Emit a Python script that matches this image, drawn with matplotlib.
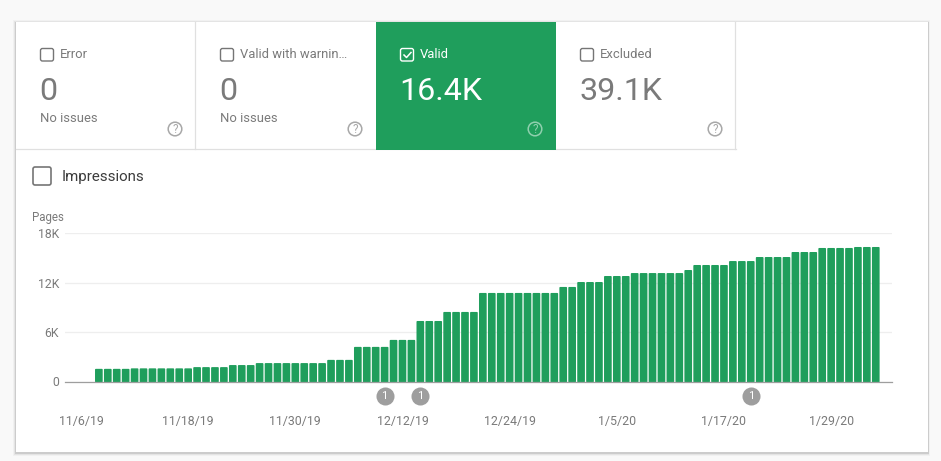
import numpy as np
import pandas as pd
import matplotlib
matplotlib.use("Agg")
import matplotlib.pyplot as plt
import matplotlib.dates as mdates
from matplotlib.patches import Rectangle, FancyBboxPatch, Circle
from matplotlib.transforms import blended_transform_factory

plt.rcParams['font.family'] = ['Roboto', 'DejaVu Sans']

# Data
first_day = '2019-11-08'
pages = [
    1540, 1540, 1540, 1540,
    1600, 1600, 1600, 1600, 1600, 1600, 1600,
    1750, 1750, 1750, 1750,
    2000, 2000, 2000,
    2240, 2240, 2240, 2240, 2240, 2240, 2240, 2240,
    2630, 2630, 2630,
    4210, 4210, 4210, 4210,
    5060, 5060, 5060,
    7360, 7360, 7360,
    8460, 8460, 8460, 8460,
    10770, 10770, 10770, 10770, 10770, 10770, 10770, 10770, 10770,
    11500, 11500,
    12100, 12100, 12100,
    12830, 12830, 12830,
    13190, 13190, 13190, 13190, 13190, 13190,
    13560,
    14170, 14170, 14170, 14170,
    14650, 14650, 14650,
    15140, 15140, 15140, 15140,
    15750, 15750, 15750,
    16240, 16240, 16240, 16240,
    16360, 16360, 16360,
]
x_tick_labels = ['11/6/19', '11/18/19', '11/30/19', '12/12/19', '12/24/19', '1/5/20', '1/17/20', '1/29/20']
y_ticks = [0, 6000, 12000, 18000]
y_tick_labels = ['0', '6K', '12K', '18K']
badge_days = ['2019-12-10', '2019-12-14', '2020-01-20']
badge_counts = ['1', '1', '1']

tile_names = ['Error', 'Valid with warnin\u2026', 'Valid', 'Excluded']
tile_values = ['0', '0', '16.4K', '39.1K']
tile_notes = ['No issues', 'No issues', '', '']

GREEN = '#1f9e5c'
GREY_TEXT = '#7a7a7a'
W, H = 941, 461

fig = plt.figure(figsize=(W / 100, H / 100), dpi=100, facecolor='#f9f9f9')

# Page layer, works in pixels
page = fig.add_axes([0, 0, 1, 1], zorder=0)
page.set_xlim(0, W)
page.set_ylim(H, 0)
page.axis('off')

# Card shadow and card
for grow, alpha in [(2.5, 0.03), (1.5, 0.05), (0.7, 0.10)]:
    page.add_patch(Rectangle((16 - grow, 22 - grow + 1), 912 + 2 * grow, 430 + 2 * grow,
                             fc='black', ec='none', alpha=alpha))
page.add_patch(Rectangle((16, 22), 912, 430, fc='white', ec='none'))

# Tiles
tile_left = [16, 196, 376, 556]
tile_w = 180
tile_h = 128
for i, name in enumerate(tile_names):
    x0 = tile_left[i]
    selected = name == 'Valid'
    if selected:
        page.add_patch(Rectangle((x0, 22), tile_w, tile_h, fc=GREEN, ec='none', zorder=2))
    label_col = 'white' if selected else GREY_TEXT
    box_col = 'white' if selected else '#757575'

    page.add_patch(FancyBboxPatch((x0 + 24.5, 48.5), 13, 12.5, boxstyle='round,pad=0,rounding_size=2',
                                  fc='none', ec=box_col, lw=1.0, zorder=3))
    if selected:
        page.plot([x0 + 28, x0 + 30.5, x0 + 35], [55, 57.5, 52.5], color='white', lw=1.1, zorder=3)
    page.text(x0 + 44, 54, name, color=label_col, fontsize=9.4, va='center', ha='left', zorder=3)
    page.text(x0 + 23.4, 100, tile_values[i], color=label_col, fontsize=23.2, va='baseline', ha='left', zorder=3)
    page.text(x0 + 24, 122, tile_notes[i], color=label_col, fontsize=9.4, va='baseline', ha='left', zorder=3)

    help_col = '#8fd0ae' if selected else '#a8a8a8'
    page.add_patch(Circle((x0 + 159, 129), 6.8, fc='none', ec=help_col, lw=1.1, zorder=3))
    page.text(x0 + 159, 129.3, '?', color=help_col, fontsize=8.5, ha='center', va='center', zorder=3)

# Tile borders
border = '#e0e0e0'
page.plot([16, 736], [149.5, 149.5], color=border, lw=0.9, zorder=1)
page.plot([195.5, 195.5], [22, 149.5], color=border, lw=0.9, zorder=1)
page.plot([735.5, 735.5], [22, 149.5], color=border, lw=0.9, zorder=1)

# Impressions toggle
page.add_patch(FancyBboxPatch((33, 167), 18, 18, boxstyle='round,pad=0,rounding_size=2',
                              fc='none', ec='#757575', lw=1.2))
page.text(62, 181, 'Impressions', color='#3c3c3c', fontsize=10.9, va='baseline', ha='left')
page.text(32, 221, 'Pages', color=GREY_TEXT, fontsize=8.3, va='baseline', ha='left')

# Chart layer
days = pd.date_range(first_day, periods=len(pages))
tick_days = pd.to_datetime(x_tick_labels, format='%m/%d/%y')

ax = fig.add_axes([65 / W, 1 - 381.5 / H, (892 - 65) / W, 148 / H], zorder=1)
ax.patch.set_alpha(0)

px_per_day = 8.93
left_day = mdates.date2num(tick_days[0]) - (81 - 65) / px_per_day
right_day = mdates.date2num(tick_days[0]) + (892 - 81) / px_per_day
ax.set_xlim(left_day, right_day)
ax.set_ylim(0, 18000)

# rounded bar tops come from the round join of the edge, so take its half width off the height
edge_px = 1.6
edge_units = (edge_px / 2) * 18000 / 148
bars = ax.bar(mdates.date2num(days), np.array(pages) - edge_units, width=0.86 - edge_px / px_per_day,
              color=GREEN, edgecolor=GREEN, linewidth=edge_px * 0.72, joinstyle='round', zorder=3)
for bar in bars:
    bar.set_snap(False)

ax.set_yticks(y_ticks)
ax.set_yticklabels(y_tick_labels)
ax.set_xticks(mdates.date2num(tick_days))
ax.set_xticklabels(x_tick_labels)
ax.tick_params(axis='y', length=0, pad=4.3, labelsize=8.8, labelcolor=GREY_TEXT)
ax.tick_params(axis='x', length=0, pad=24, labelsize=8.9, labelcolor=GREY_TEXT)
ax.grid(True, axis='y', color='#eeeeee', lw=0.9, zorder=0)
ax.set_axisbelow(True)
for side in ['top', 'left', 'right']:
    ax.spines[side].set_visible(False)
ax.spines['bottom'].set_color('#9e9e9e')
ax.spines['bottom'].set_linewidth(0.9)
ax.spines['bottom'].set_zorder(4)

# Annotation badges under the axis
badge_trans = blended_transform_factory(ax.transData, ax.transAxes)
badge_x = mdates.date2num(pd.to_datetime(badge_days))
ax.plot(badge_x, [-0.096] * len(badge_x), 'o', ms=13, mfc='#9e9e9e', mec='none',
        transform=badge_trans, clip_on=False, zorder=5)
for bx, count in zip(badge_x, badge_counts):
    ax.text(bx, -0.096, count, color='white', fontsize=8, ha='center', va='center',
            transform=badge_trans, zorder=6)

fig.savefig('out.png', dpi=100, facecolor=fig.get_facecolor())
